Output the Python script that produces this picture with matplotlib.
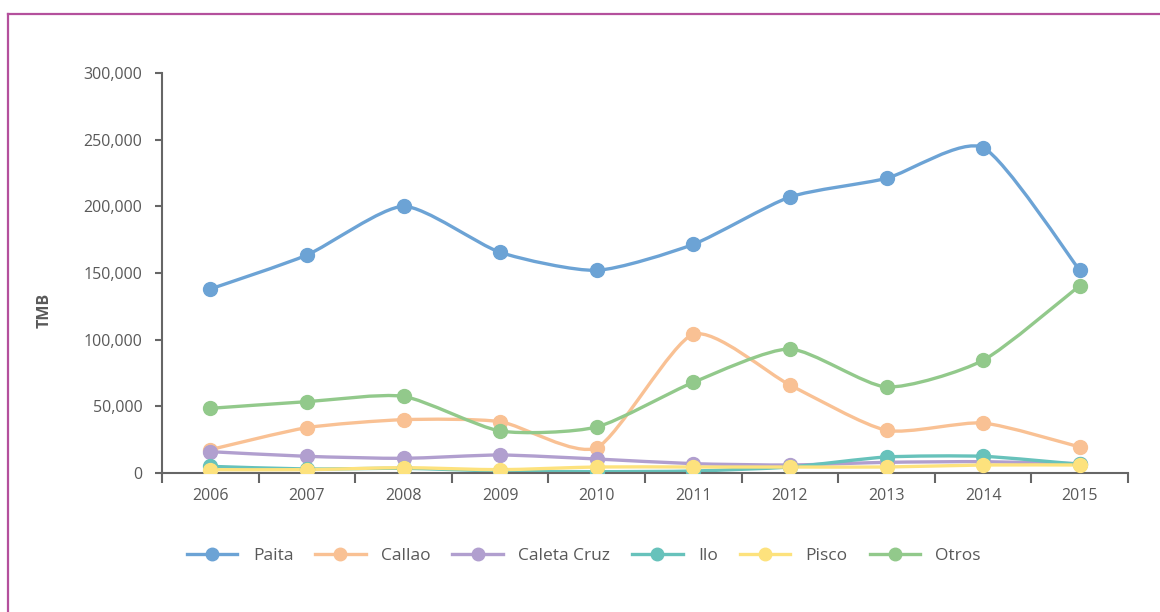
import numpy as np
import matplotlib
matplotlib.use("Agg")
import matplotlib.pyplot as plt
from matplotlib.path import Path
from matplotlib.patches import PathPatch
from matplotlib.lines import Line2D
from matplotlib.ticker import FuncFormatter

plt.rcParams['font.family'] = ['Open Sans', 'DejaVu Sans']

years = ["2006", "2007", "2008", "2009", "2010", "2011", "2012", "2013", "2014", "2015"]
paita = [138000, 163500, 200000, 165500, 152000, 171500, 207000, 221000, 244000, 152000]
callao = [17500, 34000, 40000, 38500, 19000, 104000, 66000, 32000, 37500, 19500]
caleta_cruz = [16000, 12500, 11000, 13500, 10500, 7000, 6000, 8000, 8500, 7000]
ilo = [5000, 3000, 3500, 1500, 1000, 1500, 4500, 12000, 12500, 6500]
pisco = [2500, 2500, 4000, 2500, 4500, 4500, 4500, 4500, 6000, 6000]
otros = [48500, 53500, 57500, 31500, 34500, 68000, 93000, 64500, 84500, 140500]

series = [("Paita", paita, "#6ca3d5"),
          ("Callao", callao, "#f9c194"),
          ("Caleta Cruz", caleta_cruz, "#b19fcf"),
          ("Ilo", ilo, "#67c2bb"),
          ("Pisco", pisco, "#fde27d"),
          ("Otros", otros, "#92c98b")]

axis_col = "#666666"
text_col = "#595959"


def smooth_path(x, y, t=0.11):
    # cardinal spline as bezier, mild tension
    pts = np.column_stack([x, y]).astype(float)
    verts = [pts[0]]
    codes = [Path.MOVETO]
    n = len(pts)
    for i in range(n - 1):
        p0 = pts[i - 1] if i > 0 else pts[i]
        p1 = pts[i]
        p2 = pts[i + 1]
        p3 = pts[i + 2] if i + 2 < n else pts[i + 1]
        c1 = p1 + (p2 - p0) * t
        c2 = p2 - (p3 - p1) * t
        verts += [c1, c2, p2]
        codes += [Path.CURVE4] * 3
    return Path(verts, codes)


fig = plt.figure(figsize=(11.6, 6.12), dpi=100)
ax = fig.add_axes([162 / 1160, 1 - 473 / 612, (1128 - 162) / 1160, 400 / 612])

x = np.arange(len(years))
for name, vals, col in series:
    patch = PathPatch(smooth_path(x, vals), facecolor="none", edgecolor=col,
                      lw=2.4, capstyle="round", joinstyle="round")
    ax.add_patch(patch)
    ax.plot(x, vals, "o", color=col, ms=10, mec=col, zorder=3)

ax.set_xlim(-0.5, len(years) - 0.5)
ax.set_ylim(0, 300000)
ax.set_yticks(np.arange(0, 300001, 50000))
ax.yaxis.set_major_formatter(FuncFormatter(lambda v, p: f"{int(v):,}"))

ax.set_xticks(np.arange(-0.5, len(years), 1.0))
ax.set_xticklabels([])
ax.set_xticks(x, minor=True)
ax.set_xticklabels(years, minor=True)
ax.tick_params(axis="x", which="major", length=7, width=1.5, color=axis_col, direction="out")
ax.tick_params(axis="x", which="minor", length=0, pad=11, labelsize=11.5, labelcolor=text_col)
ax.tick_params(axis="y", length=5, width=1.5, color=axis_col, labelsize=11.5,
               labelcolor=text_col, pad=9)

for s in ["top", "right"]:
    ax.spines[s].set_visible(False)
for s in ["left", "bottom"]:
    ax.spines[s].set_color(axis_col)
    ax.spines[s].set_linewidth(1.5)

fig.text(45 / 1160, 1 - 310 / 612, "TMB", rotation=90, ha="center", va="center",
         fontsize=11.5, fontweight="bold", color=text_col)

handles = [Line2D([], [], color=col, lw=2.4, marker="o", ms=9) for _, _, col in series]
labels = [name for name, _, _ in series]
fig.legend(handles, labels, loc="center", bbox_to_anchor=(584 / 1160, 1 - 556 / 612),
           ncol=6, frameon=False, fontsize=12.5, handlelength=2.9, columnspacing=1.25,
           handletextpad=0.9, labelcolor=text_col)

# page frame lines
border = "#b4509c"
fig.add_artist(Line2D([8 / 1160, 1], [1 - 14 / 612, 1 - 14 / 612], color=border, lw=1.6,
                      transform=fig.transFigure))
fig.add_artist(Line2D([8 / 1160, 8 / 1160], [0, 1 - 14 / 612], color=border, lw=1.6,
                      transform=fig.transFigure))

fig.savefig("out.png", dpi=100)
